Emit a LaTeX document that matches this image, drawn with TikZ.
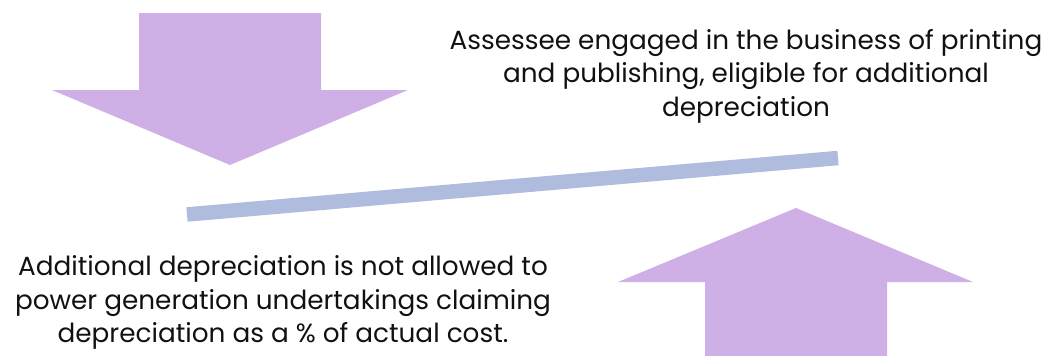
\documentclass[tikz,border=0pt]{standalone}
\usepackage{fontspec}
\setmainfont{Poppins}
\definecolor{arrowpurple}{HTML}{CEB0E6}
\definecolor{beamblue}{HTML}{AFBCDD}
\definecolor{txt}{HTML}{111111}
\begin{document}
\begin{tikzpicture}[x=1pt,y=-1pt,
  bigarrow/.style={fill=arrowpurple,draw=none},
  label/.style={align=center,text=txt,font=\fontsize{26.3}{33.5}\selectfont,inner sep=0pt}]
\useasboundingbox (0,0) rectangle (1050,356);
% down arrow
\fill[bigarrow] (139,13) -- (321,13) -- (321,90) -- (408,90) -- (230,165) -- (52,90) -- (139,90) -- cycle;
% up arrow
\fill[bigarrow] (705,356) -- (887,356) -- (887,282) -- (973,282) -- (796,208) -- (618,282) -- (705,282) -- cycle;
% beam
\coordinate (bl) at (187,214.5);
\coordinate (br) at (838,158);
\draw[beamblue,line width=14.5pt] (bl) -- (br);
\node[label] (top) at (746,76) {Assessee engaged in the business of printing\\and publishing, eligible for additional\\depreciation};
\node[label] (bot) at (283,302.5) {Additional depreciation is not allowed to\\power generation undertakings claiming\\depreciation as a \% of actual cost.};
\end{tikzpicture}
\end{document}
